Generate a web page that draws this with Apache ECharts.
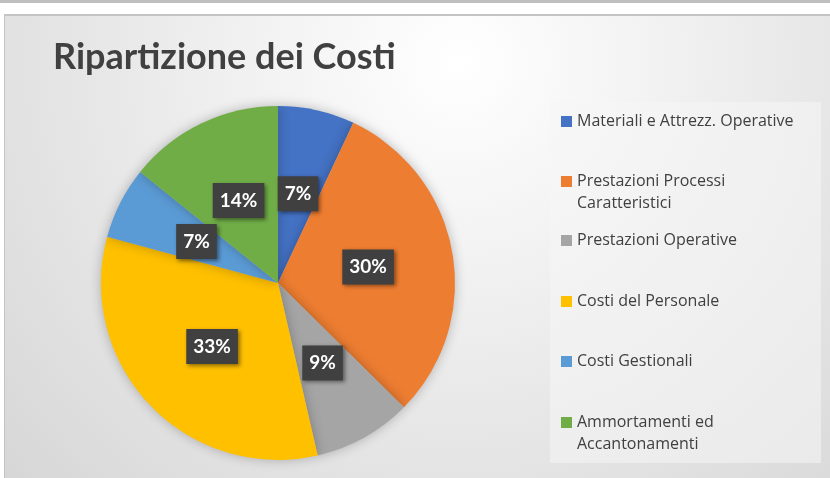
<!DOCTYPE html>
<html>
<head>
<meta charset="utf-8">
<script src="https://cdn.jsdelivr.net/npm/echarts@6/dist/echarts.min.js"></script>
<style>
html,body{margin:0;padding:0;background:#fff;width:830px;height:478px;overflow:hidden}
#strip{position:absolute;left:0;top:0;width:830px;height:3px;background:#bfbfbf}
#frame{position:absolute;left:4px;top:14px;width:826px;height:464px;border-top:2px solid #c4c4c4;border-left:1px solid #c4c4c4;box-sizing:border-box}
#chart{position:absolute;left:5px;top:16px;width:825px;height:462px}
</style>
</head>
<body>
<div id="strip"></div>
<div id="frame"></div>
<div id="chart"></div>
<script>
// categorie e valori (percentuali)
var categorie = ['Materiali e Attrezz. Operative', 'Prestazioni Processi Caratteristici', 'Prestazioni Operative',
	'Costi del Personale', 'Costi Gestionali', 'Ammortamenti ed Accantonamenti'];
var etichetteLegenda = ['Materiali e Attrezz. Operative', 'Prestazioni Processi\nCaratteristici', 'Prestazioni Operative',
	'Costi del Personale', 'Costi Gestionali', 'Ammortamenti ed\nAccantonamenti'];
var valori = [7.0, 30.4, 9.0, 32.8, 6.6, 14.2];
var colori = ['#4472C4', '#ED7D31', '#A5A5A5', '#FFC000', '#5B9BD5', '#70AD47'];

var eChart = echarts.init(document.getElementById('chart'));

var dati = [];
for (var i = 0; i < categorie.length; i++) {
	dati.push({name: categorie[i], value: valori[i], itemStyle: {color: colori[i]}});
}

// una legenda per voce, cosi' la spaziatura resta regolare come in Excel
// le voci su due righe hanno una riga vuota davanti: il quadratino resta sulla prima riga
var markerTop = [100, 160, 219, 280, 340, 401];
var legende = [];
for (var j = 0; j < categorie.length; j++) {
	var dueRighe = etichetteLegenda[j].indexOf('\n') >= 0;
	legende.push({
		data: [categorie[j]],
		orient: 'vertical',
		left: 556,
		top: dueRighe ? markerTop[j] - 27.5 : markerTop[j] - 5.5,
		padding: 0,
		icon: 'rect',
		itemWidth: 11,
		itemHeight: 11,
		selectedMode: false,
		formatter: (function (txt) { return function () { return txt; }; })(dueRighe ? ' \n' + etichetteLegenda[j] : etichetteLegenda[j]),
		textStyle: {
			fontFamily: 'Open Sans',
			fontSize: 16,
			color: '#404040',
			lineHeight: 22
		}
	});
}

var option = {
	backgroundColor: {
		type: 'radial', x: 0.55, y: 0.1, r: 1.35,
		colorStops: [{offset: 0, color: '#ffffff'}, {offset: 1, color: '#d6d6d6'}]
	},
	title: {
		text: 'Ripartizione dei Costi',
		left: 48,
		top: 23,
		padding: 0,
		textStyle: {fontFamily: 'Lato', fontSize: 36, fontWeight: 'bold', color: '#404040'}
	},
	legend: legende,
	graphic: [{
		type: 'rect',
		shape: {x: 545, y: 86, width: 271, height: 361},
		style: {fill: 'rgba(245,245,245,0.55)'},
		z: -1,
		silent: true
	}],
	series: [{
		type: 'pie',
		center: [273, 267],
		radius: [0, 177],
		startAngle: 90,
		clockwise: true,
		percentPrecision: 0,
		animation: false,
		data: dati,
		itemStyle: {
			borderWidth: 0,
			shadowBlur: 12,
			shadowColor: 'rgba(0,0,0,0.25)'
		},
		label: {
			position: 'inside',
			formatter: '{d}%',
			fontFamily: 'Lato',
			fontSize: 19,
			fontWeight: 'bold',
			color: '#ffffff',
			lineHeight: 21,
			backgroundColor: '#404040',
			padding: [7, 7],
			shadowColor: 'rgba(0,0,0,0.45)',
			shadowBlur: 4,
			shadowOffsetX: 2,
			shadowOffsetY: 2
		},
		labelLine: {show: false},
		emphasis: {disabled: true}
	}]
};

eChart.setOption(option);
</script>
</body>
</html>
